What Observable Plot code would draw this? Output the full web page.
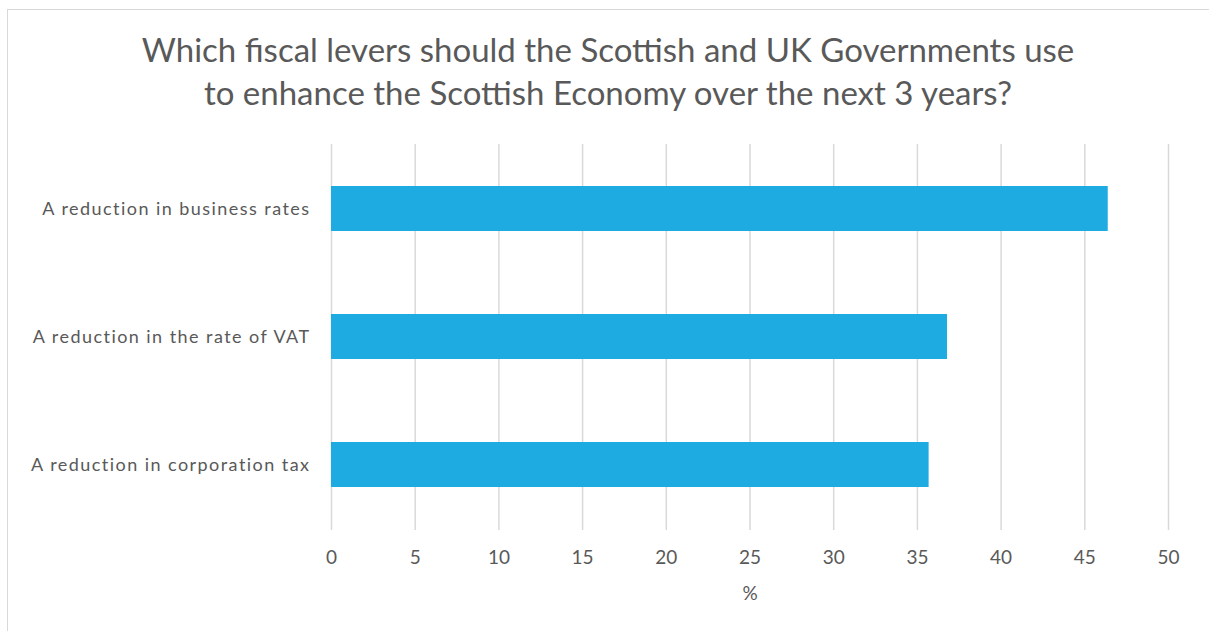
<!DOCTYPE html>
<html>
<head>
<meta charset="utf-8">
<script src="https://cdn.jsdelivr.net/npm/d3@7"></script>
<script src="https://cdn.jsdelivr.net/npm/@observablehq/plot@0.6"></script>
<style>
  html, body { margin: 0; padding: 0; background: #fff; }
  #wrap { position: relative; width: 1209px; height: 631px; overflow: hidden; font-family: Lato, sans-serif; }
  #frame { position: absolute; left: 7px; top: 9px; width: 1210px; height: 630px; border: 1.5px solid #d9d9d9; box-sizing: border-box; }
  #title { position: absolute; left: 0; top: 28px; width: 1216px; text-align: center; color: #595959; font-size: 33px; line-height: 43px; }
  #chart { position: absolute; left: 0; top: 0; }
  g[aria-label="y-axis tick label"] text { letter-spacing: 1.45px; }
</style>
</head>
<body>
<div id="wrap">
  <div id="frame"></div>
  <div id="chart"></div>
  <div id="title">Which fiscal levers should the Scottish and UK Governments use<br>to enhance the Scottish Economy over the next 3 years?</div>
</div>
<script>
const categories = ["A reduction in business rates", "A reduction in the rate of VAT", "A reduction in corporation tax"];
const values = [46.4, 36.8, 35.7];
const xTicks = [0, 5, 10, 15, 20, 25, 30, 35, 40, 45, 50];

const data = categories.map((c, i) => ({category: c, value: values[i]}));

const chart = Plot.plot({
  width: 1209,
  height: 631,
  marginTop: 144,
  marginBottom: 101,
  marginLeft: 331,
  marginRight: 41,
  style: {fontFamily: "Lato, sans-serif", color: "#595959", background: "transparent"},
  x: {domain: [0, 50], ticks: xTicks, label: null},
  y: {domain: categories, paddingInner: 0.648, paddingOuter: 0.324, label: null},
  marks: [
    Plot.gridX(xTicks, {stroke: "#d9d9d9", strokeOpacity: 1, strokeWidth: 1.5}),
    Plot.barX(data, {x: "value", y: "category", fill: "#1eabe2"}),
    Plot.axisX({ticks: xTicks, tickSize: 0, tickPadding: 20, fontSize: 19, fill: "#595959", label: null}),
    Plot.text(["%"], {frameAnchor: "bottom", dy: 69, fontSize: 19, fill: "#595959"}),
    Plot.axisY({tickSize: 0, tickPadding: 21, fontSize: 18, fill: "#595959", label: null})
  ]
});
document.getElementById("chart").appendChild(chart);
</script>
</body>
</html>
